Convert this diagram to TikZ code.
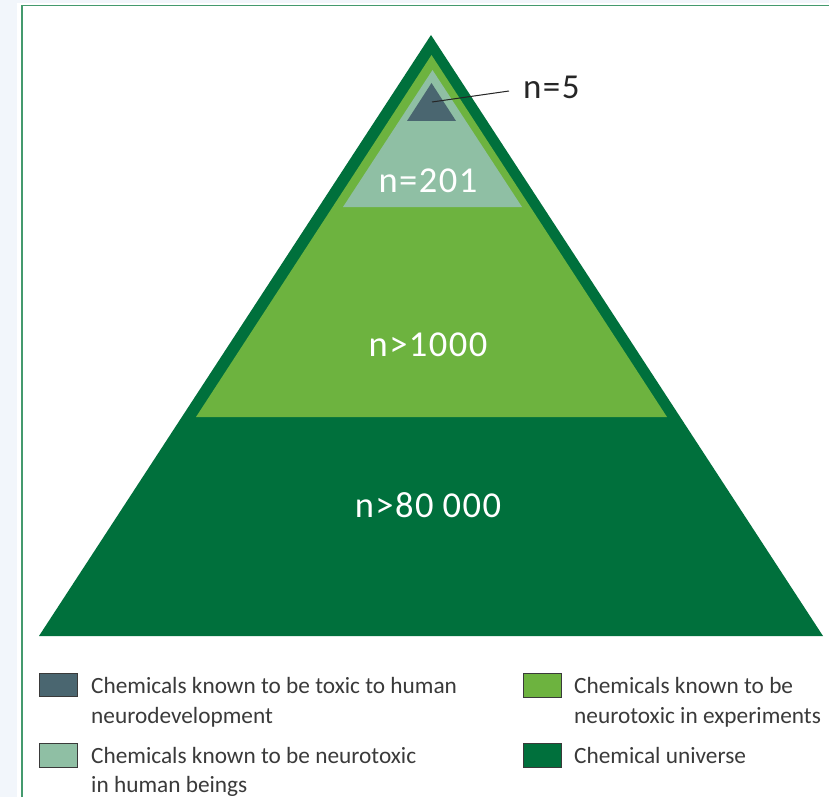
\documentclass[tikz,border=0pt]{standalone}
\usepackage{fontspec}
\setmainfont{Carlito}
\definecolor{bgblue}{HTML}{F2F6FB}
\definecolor{frameg}{HTML}{449A6E}
\definecolor{dkgreen}{HTML}{00703C}
\definecolor{ltgreen}{HTML}{6DB33F}
\definecolor{palegreen}{HTML}{8FBFA4}
\definecolor{slate}{HTML}{4A6670}
\definecolor{txt}{HTML}{3A3A3A}
\tikzset{
  numlabel/.style={text=white, inner sep=0pt, font=\fontsize{36.5}{40}\selectfont\addfontfeature{LetterSpace=4}},
  leglabel/.style={text=txt, inner sep=0pt, anchor=base west, font=\fontsize{23.3}{28}\selectfont},
  legbox/.style={draw=txt, line width=0.8pt},
  frame/.style={draw=frameg, line width=1.7pt},
}
\begin{document}
\begin{tikzpicture}[x=1pt,y=-1pt]
\useasboundingbox (0,0) rectangle (829,797);
\fill[bgblue] (0,0) rectangle (829,797);
\fill[white] (17,3) rectangle (829,797);
\draw[frame] (22,797) -- (22,5.5) -- (829,5.5);
% pyramid
\fill[dkgreen] (431,35) -- (823,636) -- (39,636) -- cycle;
\fill[ltgreen] (431.5,55) -- (667,417) -- (196,417) -- cycle;
\fill[palegreen] (432.5,70) -- (522,207) -- (343,207) -- cycle;
\fill[slate] (431.5,83) -- (456,121) -- (407,121) -- cycle;
% labels
\node[numlabel] (l201) at (428,181) {n=201};
\node[numlabel] (l1000) at (428,345) {n>1000};
\node[numlabel] (l80000) at (428,505) {n>80\hspace{0.25em}000};
\node[numlabel, text=black!85, font=\fontsize{35}{40}\selectfont\addfontfeature{LetterSpace=4}, anchor=west] (l5) at (523,87) {n=5};
\coordinate (tip) at (432,102);
\coordinate (lead) at (509,91);
\draw[black!85, line width=1pt] (tip) -- (lead);
% legend
\filldraw[legbox, fill=slate] (39,673) rectangle (77,696);
\filldraw[legbox, fill=palegreen] (39,743) rectangle (77,767);
\filldraw[legbox, fill=ltgreen] (523,673) rectangle (561,697);
\filldraw[legbox, fill=dkgreen] (523,743) rectangle (561,767);
\node[leglabel] (t1a) at (91,693) {Chemicals known to be toxic to human};
\node[leglabel] (t1b) at (91,723) {neurodevelopment};
\node[leglabel] (t2a) at (91,763) {Chemicals known to be neurotoxic};
\node[leglabel] (t2b) at (91,792) {in human beings};
\node[leglabel] (t3a) at (574,693) {Chemicals known to be};
\node[leglabel] (t3b) at (574,723) {neurotoxic in experiments};
\node[leglabel] (t4a) at (574,763) {Chemical universe};
\end{tikzpicture}
\end{document}
